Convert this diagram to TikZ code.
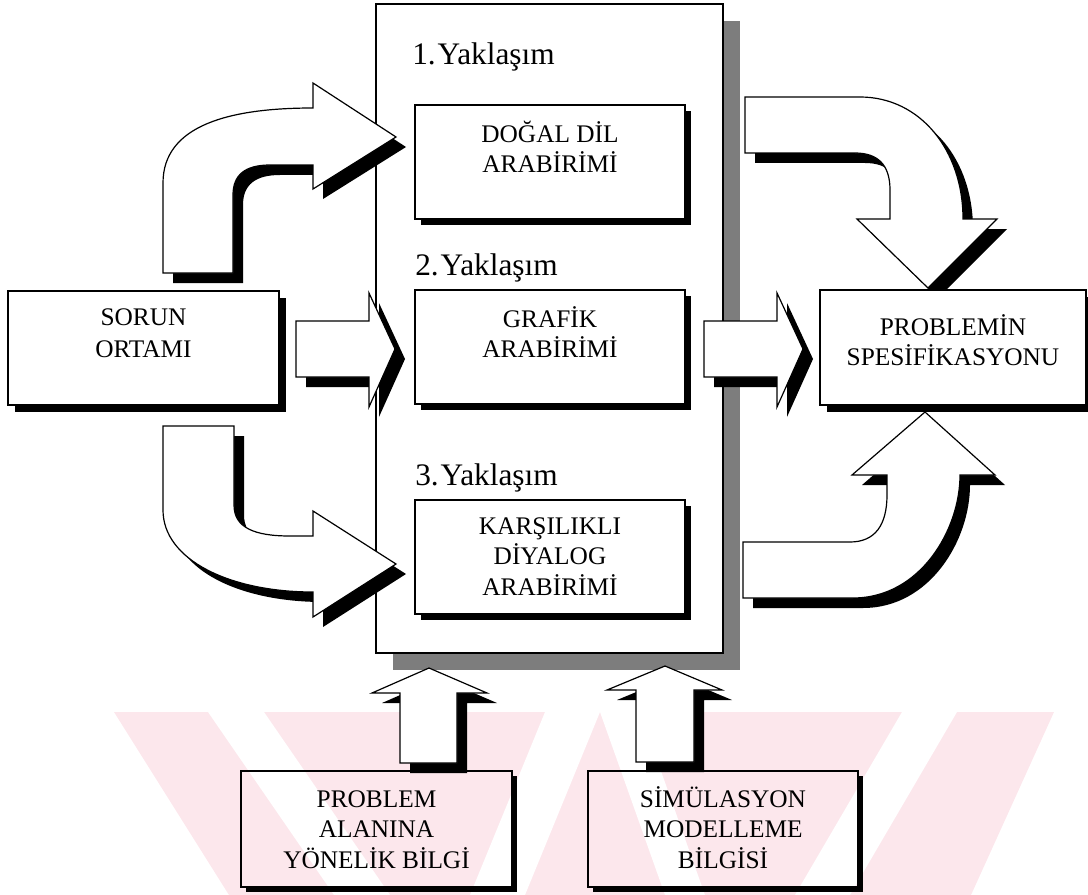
\documentclass[tikz,border=0pt]{standalone}
\usepackage{fontspec}
\setmainfont{Liberation Serif}
\usetikzlibrary{calc,fit}
\definecolor{wmpink}{RGB}{252,231,236}
\definecolor{panelgray}{RGB}{125,125,125}

% black L-shaped drop shadow on the lower right of a named box (#2 = offset in px)
\newcommand\castshadow[2]{%
  \fill[black] ($(#1.north east)+(0,#2)$) rectangle ($(#1.south east)+(#2,#2)$);
  \fill[black] ($(#1.south west)+(#2,0)$) rectangle ($(#1.south east)+(#2,#2)$);}

% block arrow: black copy shifted down-right, then the white outlined shape
\newcommand\blockarrow[1]{%
  \fill[arrowshade] #1;
  \filldraw[arrowbody] #1;}

\tikzset{
  frame/.style={draw=black, line width=0.9pt, inner sep=0pt, outer sep=0pt},
  whiteframe/.style={frame, fill=white},
  lbl/.style={font=\fontsize{19}{23}\selectfont, align=center, anchor=north, inner sep=0pt},
  stage/.style={font=\fontsize{23.5}{27}\selectfont, anchor=base west, inner sep=0pt},
  arrowbody/.style={fill=white, draw=black, line width=0.9pt, line join=miter},
  arrowshade/.style={fill=black, shift={(10,10)}},
  wm/.style={fill=wmpink, draw=none},
  wmgap/.style={fill=white, draw=none},
}

\begin{document}
\begin{tikzpicture}[x=0.75pt, y=-0.75pt]
\useasboundingbox (0,0) rectangle (1088,895);

% faint watermark band along the bottom
\fill[wm] (114,712) -- (1054,712) -- (971,895) -- (229,895) -- cycle;
\fill[wmgap] (208,712) -- (264,712) -- (390,895) -- (334,895) -- cycle;
\fill[wmgap] (545,712) -- (600,712) -- (525,895) -- (470,895) -- cycle;
\fill[wmgap] (600,712) -- (640,712) -- (705,895) -- (665,895) -- cycle;
\fill[wmgap] (902,712) -- (957,712) -- (850,895) -- (795,895) -- cycle;

% central panel with grey shadow
\fill[panelgray] (393,21) rectangle (740,670);
\node[whiteframe, fit={(376,4) (723,653)}] (panel) {};

% approaches and their interface boxes
\node[stage] (y1) at (412,65) {1.\kern1.5pt Yaklaşım};
\node[stage] (y2) at (415,275) {2.\kern1.5pt Yaklaşım};
\node[stage] (y3) at (415,485) {3.\kern1.5pt Yaklaşım};

\node[whiteframe, fit={(415,105) (685,219)}] (dil) {};
\node[whiteframe, fit={(415,290) (685,404)}] (grafik) {};
\node[whiteframe, fit={(415,500) (685,614)}] (diyalog) {};
\castshadow{dil}{6}
\castshadow{grafik}{6}
\castshadow{diyalog}{6}
\node[lbl] (dilT) at (550,120.5) {\strut DOĞAL DİL\\ARABİRİMİ};
\node[lbl] (grafikT) at (550,305.5) {\strut GRAFİK\\ARABİRİMİ};
\node[lbl] (diyalogT) at (550,512.5) {\strut KARŞILIKLI\\DİYALOG\\ARABİRİMİ};

% problem environment
\node[whiteframe, fit={(8,291) (279,405)}] (sorun) {};
\castshadow{sorun}{7}
\node[lbl, font=\fontsize{19}{24}\selectfont] (sorunT) at (143.5,302.6) {\strut SORUN\\ORTAMI};

% knowledge sources
\node[frame, fit={(241,771) (512,887)}] (alan) {};
\node[frame, fit={(588,771) (858,887)}] (simul) {};
\castshadow{alan}{5}
\castshadow{simul}{5}
\node[lbl] (alanT) at (376.5,785.5) {\strut PROBLEM\\ALANINA\\YÖNELİK BİLGİ};
\node[lbl] (simulT) at (723,785.5) {\strut SİMÜLASYON\\MODELLEME\\BİLGİSİ};

% block arrows from the problem environment
\blockarrow{(163,273) -- (163,183) .. controls (163,125) and (230,108) .. (313,108)
  -- (313,83) -- (396,137) -- (313,189) -- (313,165) -- (270,165)
  .. controls (245,165) and (233,175) .. (233,195) -- (233,273) -- cycle}
\blockarrow{(296,321) -- (369,321) -- (369,293) -- (395,349) -- (369,407)
  -- (369,377) -- (296,377) -- cycle}
\blockarrow{(163,426) -- (234,426) -- (234,505) .. controls (234,528) and (255,536) .. (290,536)
  -- (313,536) -- (313,511) -- (396,564) -- (313,617) -- (313,592)
  .. controls (230,592) and (163,560) .. (163,510) -- cycle}

% block arrows into the specification
\blockarrow{(745,97) -- (860,97) .. controls (920,97) and (963,150) .. (963,219)
  -- (997,219) -- (928,288) -- (857,219) -- (890,219) -- (890,190)
  .. controls (890,165) and (878,153) .. (855,153) -- (745,153) -- cycle}
\blockarrow{(704,321) -- (777,321) -- (777,293) -- (803,349) -- (777,407)
  -- (777,377) -- (704,377) -- cycle}
\blockarrow{(743,598) -- (853,598) .. controls (920,598) and (960,530) .. (960,475)
  -- (995,475) -- (925,412) -- (852,475) -- (887,475) -- (887,495)
  .. controls (887,525) and (875,542) .. (850,542) -- (743,542) -- cycle}

% block arrows from the knowledge sources
\blockarrow{(400,763) -- (400,693) -- (372,693) -- (429,668) -- (487,693)
  -- (457,693) -- (457,763) -- cycle}
\blockarrow{(636,762) -- (636,690) -- (607,690) -- (665,666) -- (722,690)
  -- (694,690) -- (694,762) -- cycle}

% problem specification
\node[whiteframe, fit={(820,290) (1086,405)}] (spec) {};
\castshadow{spec}{7}
\node[lbl, font=\fontsize{19}{20.5}\selectfont] (specT) at (953,313.9) {\strut PROBLEMİN\\SPESİFİKASYONU};
\end{tikzpicture}
\end{document}
